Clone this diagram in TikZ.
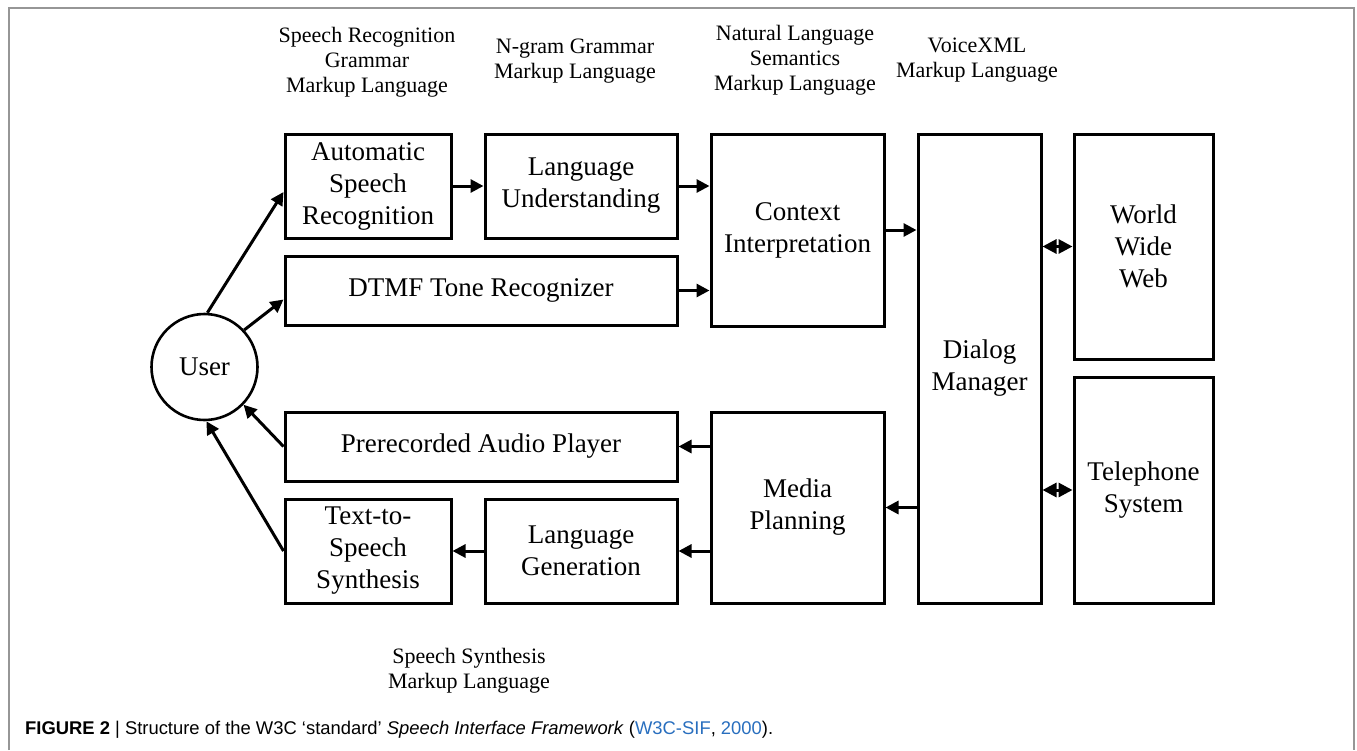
\documentclass[tikz,border=0pt]{standalone}
\usepackage{fontspec}
\setmainfont{Liberation Serif}
\newfontfamily\capfont{Liberation Sans}
\usetikzlibrary{arrows.meta,calc}
\definecolor{linkblue}{RGB}{40,110,190}
\definecolor{framegray}{RGB}{150,150,150}
\tikzset{
  blk/.style={draw, line width=3pt, inner sep=0pt, align=center,
    font=\fontsize{27}{32}\selectfont},
  userc/.style={draw, circle, line width=2.6pt, inner sep=0pt,
    minimum size=106pt, font=\fontsize{27}{32}\selectfont},
  mlabel/.style={align=center, inner sep=0pt,
    font=\fontsize{22}{25}\selectfont},
  flow/.style={line width=3pt, -{Triangle[length=13pt,width=13pt]}},
  both/.style={line width=3pt,
    {Triangle[length=14pt,width=14pt]}-{Triangle[length=14pt,width=14pt]}}
}
\begin{document}
\begin{tikzpicture}[x=1pt,y=-1pt]
\useasboundingbox (0,0) rectangle (1357,750);
% outer frame, open at the bottom
\draw[framegray, line width=1.5pt] (9,750) -- (9,8) -- (1354,8) -- (1354,750);

% markup-language labels
\node[mlabel] (srgml) at (367,62) {Speech Recognition\\Grammar\\Markup Language};
\node[mlabel] (ngml)  at (575,61) {N-gram Grammar\\Markup Language};
\node[mlabel] (nlsml) at (795,60) {Natural Language\\Semantics\\Markup Language};
\node[mlabel] (vxml)  at (977,60) {VoiceXML\\Markup Language};
\node[mlabel] (ssml)  at (469,670.5) {Speech Synthesis\\Markup Language};

% components
\node[userc] (user) at (204.5,367) {User};
\node[blk, minimum width=166pt, minimum height=104pt] (asr) at (368,186) {Automatic\\Speech\\Recognition};
\node[blk, minimum width=192pt, minimum height=104pt] (lu) at (581,186) {Language\\Understanding};
\node[blk, minimum width=392pt, minimum height=69pt] (dtmf) at (481,290.5) {DTMF Tone Recognizer};
\node[blk, minimum width=173pt, minimum height=192pt] (ctx) at (797.5,230) {Context\\Interpretation};
\node[blk, minimum width=123pt, minimum height=469pt] (dm) at (979.5,368.5) {Dialog\\Manager};
\node[blk, minimum width=139pt, minimum height=225pt] (www) at (1143.5,246.5) {World\\Wide\\Web};
\node[blk, minimum width=139pt, minimum height=226pt] (tel) at (1143.5,490) {Telephone\\System};
\node[blk, minimum width=392pt, minimum height=69pt] (pap) at (481,446.5) {Prerecorded Audio Player};
\node[blk, minimum width=173pt, minimum height=191pt] (mp) at (797.5,507.5) {Media\\Planning};
\node[blk, minimum width=166pt, minimum height=104pt] (tts) at (368,551) {Text-to-\\Speech\\Synthesis};
\node[blk, minimum width=192pt, minimum height=104pt] (lg) at (581,551) {Language\\Generation};

% input path
\draw[flow] (user.87) -- ($(asr.west)+(0,6)$);
\draw[flow] (user.43) -- ($(dtmf.west)+(0,9)$);
\draw[flow] (asr.east) -- (lu.west);
\draw[flow] (lu.east) -- (lu.east -| ctx.west);
\draw[flow] (dtmf.east) -- (dtmf.east -| ctx.west);
\draw[flow] (ctx.east) -- (ctx.east -| dm.west);
% dialog manager and external resources
\draw[both] (www.west -| dm.east) -- (www.west);
\draw[both] (tel.west -| dm.east) -- (tel.west);
% output path
\draw[flow] (mp.east -| dm.west) -- (mp.east);
\draw[flow] (pap.east -| mp.west) -- (pap.east);
\draw[flow] (lg.east -| mp.west) -- (lg.east);
\draw[flow] (lg.west) -- (tts.east);
\draw[flow] (pap.west) -- (user.-44);
\draw[flow] (tts.west) -- (user.-88);

% caption
\node[anchor=west, inner sep=0pt, font=\capfont\fontsize{18.4}{21}\selectfont] (cap) at (25,730)
  {\textbf{FIGURE 2} | Structure of the W3C ‘standard’ \textit{Speech Interface Framework} (\textcolor{linkblue}{W3C-SIF}, \textcolor{linkblue}{2000}).};
\end{tikzpicture}
\end{document}
